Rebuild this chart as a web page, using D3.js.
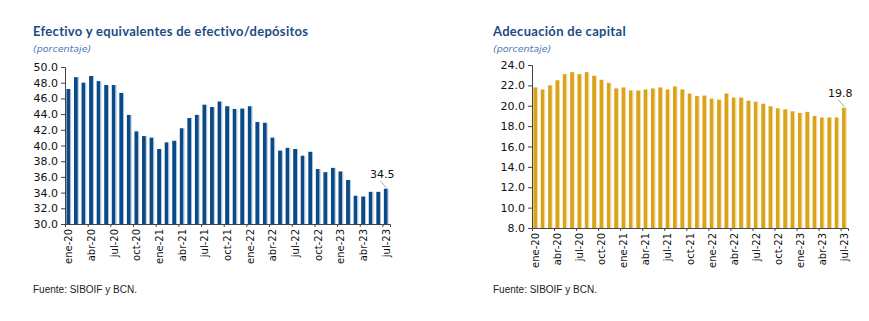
<!DOCTYPE html>
<html>
<head>
<meta charset="utf-8">
<script src="https://cdn.jsdelivr.net/npm/d3@7"></script>
<style>
  body { margin: 0; background: #fff; }
  svg text { font-family: "DejaVu Sans", Verdana, sans-serif; }
</style>
</head>
<body>
<div id="chart"></div>
<script>
// Monthly series, ene-20 .. jul-23
const monthNames = ["ene", "feb", "mar", "abr", "may", "jun", "jul", "ago", "sep", "oct", "nov", "dic"];
const months = [];
for (let yr = 20; yr <= 23; yr++) {
    for (let m = 0; m < 12; m++) {
        if (yr === 23 && m > 6) break;
        months.push(`${monthNames[m]}-${yr}`);
    }
}

const efectivo = [
    47.2, 48.7, 48.0, 48.85, 48.2, 47.7, 47.7, 46.7, 43.9, 41.8, 41.2, 41.0,
    39.55, 40.4, 40.6, 42.2, 43.5, 43.9, 45.2, 44.9, 45.6, 45.0, 44.65, 44.7,
    45.0, 43.0, 42.9, 41.0, 39.35, 39.7, 39.55, 38.7, 39.2, 37.0, 36.6, 37.15,
    36.7, 35.6, 33.6, 33.5, 34.1, 34.1, 34.5
];

const adecuacion = [
    21.8, 21.6, 22.0, 22.5, 23.1, 23.3, 23.1, 23.3, 22.95, 22.55, 22.25, 21.7,
    21.8, 21.5, 21.5, 21.6, 21.7, 21.8, 21.6, 21.9, 21.6, 21.2, 20.95, 21.0,
    20.7, 20.6, 21.2, 20.8, 20.8, 20.5, 20.4, 20.2, 19.95, 19.75, 19.65, 19.45,
    19.3, 19.4, 19.0, 18.85, 18.85, 18.85, 19.8
];

const ticksLeft = [30, 32, 34, 36, 38, 40, 42, 44, 46, 48, 50];
const ticksRight = [8, 10, 12, 14, 16, 18, 20, 22, 24];

const svg = d3.select("#chart").append("svg")
    .attr("width", 869)
    .attr("height", 321);

const defs = svg.append("defs");

function addGradient(id, dark, light) {
    const g = defs.append("linearGradient")
        .attr("id", id)
        .attr("x1", "0%").attr("x2", "100%")
        .attr("y1", "0%").attr("y2", "0%");
    g.append("stop").attr("offset", "0%").attr("stop-color", dark);
    g.append("stop").attr("offset", "72%").attr("stop-color", dark);
    g.append("stop").attr("offset", "80%").attr("stop-color", light);
    g.append("stop").attr("offset", "100%").attr("stop-color", light);
}
addGradient("gradBlue", "#0a4a86", "#a8bfdc");
addGradient("gradGold", "#d9a31c", "#f3d998");

function drawPanel(opts) {
    const g = svg.append("g");

    // Titles
    g.append("text")
        .attr("x", opts.titleX)
        .attr("y", 36)
        .style("font-family", "Lato, sans-serif")
        .style("font-weight", "bold")
        .style("font-size", "13px")
        .style("letter-spacing", "0.3px")
        .style("fill", "#1d4a85")
        .text(opts.title);

    g.append("text")
        .attr("x", opts.titleX)
        .attr("y", 52)
        .style("font-style", "italic")
        .style("font-size", "9.5px")
        .style("fill", "#4f78b4")
        .text("(porcentaje)");

    // Scales
    const x = d3.scaleBand()
        .domain(months)
        .range([opts.left, opts.right])
        .paddingInner(0.38)
        .paddingOuter(0.19);

    const xi = d3.scaleLinear()
        .domain([0, months.length])
        .range([opts.left, opts.right]);

    const y = d3.scaleLinear()
        .domain(opts.domain)
        .range([opts.bottom, opts.top]);

    // Bars
    g.selectAll(".bar")
        .data(opts.values)
        .enter()
        .append("rect")
        .attr("x", (d, i) => x(months[i]))
        .attr("y", d => y(d))
        .attr("width", x.bandwidth())
        .attr("height", d => y(opts.domain[0]) - y(d))
        .style("fill", `url(#${opts.grad})`);

    // Y axis
    const yAxis = g.append("g")
        .attr("transform", `translate(${opts.left},0)`)
        .call(d3.axisLeft(y)
            .tickValues(opts.ticks)
            .tickSize(4)
            .tickPadding(3)
            .tickFormat(d3.format(".1f")));

    // X axis: tick marks on category boundaries every 3 months
    const xAxis = g.append("g")
        .attr("transform", `translate(0,${opts.bottom})`)
        .call(d3.axisBottom(xi)
            .tickValues(d3.range(0, months.length, 3))
            .tickSize(3)
            .tickFormat(""));

    // X labels centered on the months
    const xLabels = g.append("g")
        .attr("transform", `translate(0,${opts.bottom})`)
        .call(d3.axisBottom(x)
            .tickValues(months.filter((d, i) => i % 3 === 0))
            .tickSize(0)
            .tickPadding(0));
    xLabels.select(".domain").remove();
    xLabels.selectAll("text")
        .attr("transform", "rotate(-90)")
        .attr("x", -5)
        .attr("y", 0)
        .attr("dy", "0.35em")
        .style("text-anchor", "end")
        .style("font-size", "10px")
        .style("fill", "#111");

    [yAxis, xAxis].forEach(a => {
        a.selectAll(".domain, line").attr("stroke", "#444");
        a.selectAll("text").style("font-size", "11px").style("fill", "#111");
    });

    // Label for the latest month
    const last = opts.values.length - 1;
    const lx = x(months[last]) + x.bandwidth() / 2;
    const ly = y(opts.values[last]);
    g.append("line")
        .attr("x1", lx - 6).attr("y1", ly - 8)
        .attr("x2", lx).attr("y2", ly - 1)
        .attr("stroke", "#aaa")
        .attr("stroke-width", 1);
    g.append("text")
        .attr("x", lx - 4)
        .attr("y", ly - 11)
        .style("text-anchor", "middle")
        .style("font-size", "11px")
        .style("fill", "#111")
        .text(d3.format(".1f")(opts.values[last]));

    // Source
    g.append("text")
        .attr("x", opts.titleX)
        .attr("y", 293)
        .style("font-family", "'Liberation Sans', sans-serif")
        .style("font-size", "10px")
        .style("fill", "#222")
        .text("Fuente: SIBOIF y BCN.");
}

drawPanel({
    title: "Efectivo y equivalentes de efectivo/depósitos",
    titleX: 33,
    values: efectivo,
    domain: [30, 50],
    ticks: ticksLeft,
    left: 65, right: 390, top: 67, bottom: 224,
    grad: "gradBlue"
});

drawPanel({
    title: "Adecuación de capital",
    titleX: 493,
    values: adecuacion,
    domain: [8, 24],
    ticks: ticksRight,
    left: 532, right: 848, top: 65, bottom: 228,
    grad: "gradGold"
});
</script>
</body>
</html>
